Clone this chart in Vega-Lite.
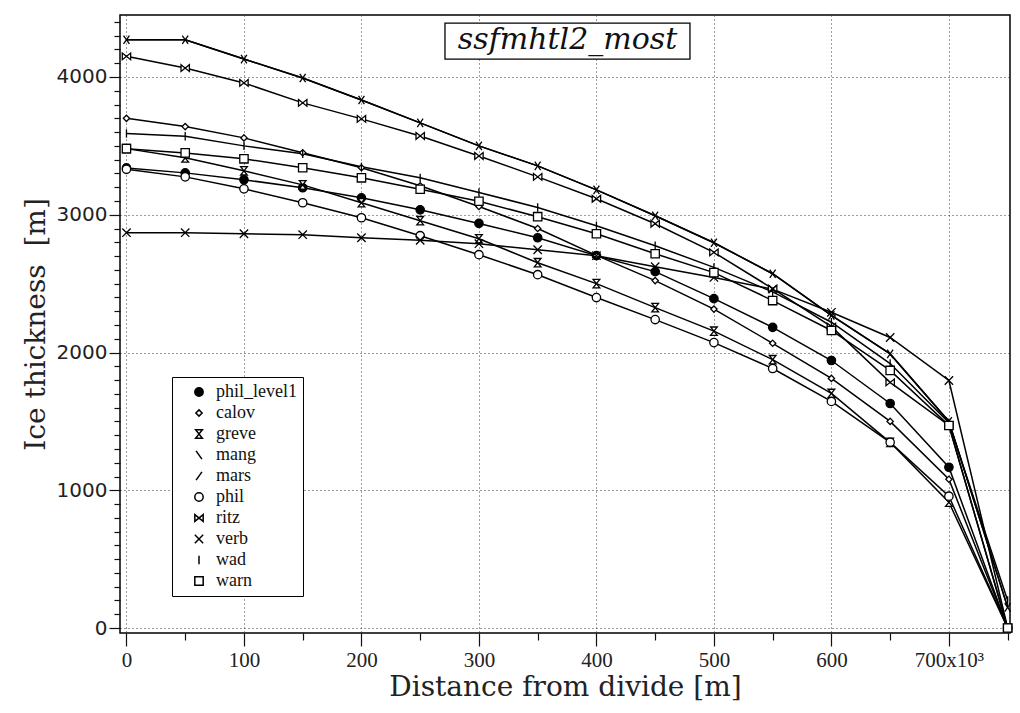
{
  "$schema": "https://vega.github.io/schema/vega-lite/v6.json",
  "width": 890,
  "height": 618,
  "autosize": {"type": "none"},
  "padding": {"left": 120, "top": 15, "right": 10, "bottom": 80},
  "background": "white",
  "config": {
    "view": {"stroke": "black", "strokeWidth": 1.5},
    "axis": {"labelColor": "#222", "titleColor": "#222", "tickColor": "#111", "tickWidth": 1.2}
  },
  "data": {
    "values": [
      {"s": "phil_level1", "x": 0, "y": 3340}, {"s": "phil_level1", "x": 50000, "y": 3304}, {"s": "phil_level1", "x": 100000, "y": 3254}, {"s": "phil_level1", "x": 150000, "y": 3196}, {"s": "phil_level1", "x": 200000, "y": 3123}, {"s": "phil_level1", "x": 250000, "y": 3036}, {"s": "phil_level1", "x": 300000, "y": 2937}, {"s": "phil_level1", "x": 350000, "y": 2833}, {"s": "phil_level1", "x": 400000, "y": 2703}, {"s": "phil_level1", "x": 450000, "y": 2587}, {"s": "phil_level1", "x": 500000, "y": 2391}, {"s": "phil_level1", "x": 550000, "y": 2183}, {"s": "phil_level1", "x": 600000, "y": 1942}, {"s": "phil_level1", "x": 650000, "y": 1630}, {"s": "phil_level1", "x": 700000, "y": 1167}, {"s": "phil_level1", "x": 750000, "y": 0},
      {"s": "calov", "x": 0, "y": 3700}, {"s": "calov", "x": 50000, "y": 3640}, {"s": "calov", "x": 100000, "y": 3558}, {"s": "calov", "x": 150000, "y": 3450}, {"s": "calov", "x": 200000, "y": 3341}, {"s": "calov", "x": 250000, "y": 3210}, {"s": "calov", "x": 300000, "y": 3060}, {"s": "calov", "x": 350000, "y": 2900}, {"s": "calov", "x": 400000, "y": 2705}, {"s": "calov", "x": 450000, "y": 2522}, {"s": "calov", "x": 500000, "y": 2315}, {"s": "calov", "x": 550000, "y": 2067}, {"s": "calov", "x": 600000, "y": 1812}, {"s": "calov", "x": 650000, "y": 1500}, {"s": "calov", "x": 700000, "y": 1080}, {"s": "calov", "x": 750000, "y": 0},
      {"s": "greve", "x": 0, "y": 3480}, {"s": "greve", "x": 50000, "y": 3413}, {"s": "greve", "x": 100000, "y": 3319}, {"s": "greve", "x": 150000, "y": 3217}, {"s": "greve", "x": 200000, "y": 3087}, {"s": "greve", "x": 250000, "y": 2957}, {"s": "greve", "x": 300000, "y": 2826}, {"s": "greve", "x": 350000, "y": 2652}, {"s": "greve", "x": 400000, "y": 2500}, {"s": "greve", "x": 450000, "y": 2326}, {"s": "greve", "x": 500000, "y": 2155}, {"s": "greve", "x": 550000, "y": 1948}, {"s": "greve", "x": 600000, "y": 1703}, {"s": "greve", "x": 650000, "y": 1348}, {"s": "greve", "x": 700000, "y": 913}, {"s": "greve", "x": 750000, "y": 0},
      {"s": "mang", "x": 0, "y": 4270}, {"s": "mang", "x": 50000, "y": 4270}, {"s": "mang", "x": 100000, "y": 4130}, {"s": "mang", "x": 150000, "y": 3993}, {"s": "mang", "x": 200000, "y": 3833}, {"s": "mang", "x": 250000, "y": 3667}, {"s": "mang", "x": 300000, "y": 3500}, {"s": "mang", "x": 350000, "y": 3355}, {"s": "mang", "x": 400000, "y": 3181}, {"s": "mang", "x": 450000, "y": 2993}, {"s": "mang", "x": 500000, "y": 2797}, {"s": "mang", "x": 550000, "y": 2572}, {"s": "mang", "x": 600000, "y": 2270}, {"s": "mang", "x": 650000, "y": 1990}, {"s": "mang", "x": 700000, "y": 1500}, {"s": "mang", "x": 750000, "y": 150},
      {"s": "mars", "x": 0, "y": 4270}, {"s": "mars", "x": 50000, "y": 4270}, {"s": "mars", "x": 100000, "y": 4130}, {"s": "mars", "x": 150000, "y": 3993}, {"s": "mars", "x": 200000, "y": 3833}, {"s": "mars", "x": 250000, "y": 3667}, {"s": "mars", "x": 300000, "y": 3500}, {"s": "mars", "x": 350000, "y": 3355}, {"s": "mars", "x": 400000, "y": 3181}, {"s": "mars", "x": 450000, "y": 2993}, {"s": "mars", "x": 500000, "y": 2797}, {"s": "mars", "x": 550000, "y": 2572}, {"s": "mars", "x": 600000, "y": 2270}, {"s": "mars", "x": 650000, "y": 1990}, {"s": "mars", "x": 700000, "y": 1500}, {"s": "mars", "x": 750000, "y": 150},
      {"s": "phil", "x": 0, "y": 3330}, {"s": "phil", "x": 50000, "y": 3275}, {"s": "phil", "x": 100000, "y": 3188}, {"s": "phil", "x": 150000, "y": 3087}, {"s": "phil", "x": 200000, "y": 2978}, {"s": "phil", "x": 250000, "y": 2848}, {"s": "phil", "x": 300000, "y": 2710}, {"s": "phil", "x": 350000, "y": 2565}, {"s": "phil", "x": 400000, "y": 2399}, {"s": "phil", "x": 450000, "y": 2239}, {"s": "phil", "x": 500000, "y": 2072}, {"s": "phil", "x": 550000, "y": 1884}, {"s": "phil", "x": 600000, "y": 1645}, {"s": "phil", "x": 650000, "y": 1348}, {"s": "phil", "x": 700000, "y": 957}, {"s": "phil", "x": 750000, "y": 0},
      {"s": "ritz", "x": 0, "y": 4150}, {"s": "ritz", "x": 50000, "y": 4065}, {"s": "ritz", "x": 100000, "y": 3957}, {"s": "ritz", "x": 150000, "y": 3812}, {"s": "ritz", "x": 200000, "y": 3696}, {"s": "ritz", "x": 250000, "y": 3572}, {"s": "ritz", "x": 300000, "y": 3427}, {"s": "ritz", "x": 350000, "y": 3275}, {"s": "ritz", "x": 400000, "y": 3116}, {"s": "ritz", "x": 450000, "y": 2935}, {"s": "ritz", "x": 500000, "y": 2727}, {"s": "ritz", "x": 550000, "y": 2464}, {"s": "ritz", "x": 600000, "y": 2188}, {"s": "ritz", "x": 650000, "y": 1783}, {"s": "ritz", "x": 700000, "y": 1471}, {"s": "ritz", "x": 750000, "y": 0},
      {"s": "verb", "x": 0, "y": 2870}, {"s": "verb", "x": 50000, "y": 2870}, {"s": "verb", "x": 100000, "y": 2862}, {"s": "verb", "x": 150000, "y": 2855}, {"s": "verb", "x": 200000, "y": 2833}, {"s": "verb", "x": 250000, "y": 2815}, {"s": "verb", "x": 300000, "y": 2790}, {"s": "verb", "x": 350000, "y": 2746}, {"s": "verb", "x": 400000, "y": 2703}, {"s": "verb", "x": 450000, "y": 2623}, {"s": "verb", "x": 500000, "y": 2545}, {"s": "verb", "x": 550000, "y": 2460}, {"s": "verb", "x": 600000, "y": 2292}, {"s": "verb", "x": 650000, "y": 2109}, {"s": "verb", "x": 700000, "y": 1797}, {"s": "verb", "x": 750000, "y": 0},
      {"s": "wad", "x": 0, "y": 3590}, {"s": "wad", "x": 50000, "y": 3570}, {"s": "wad", "x": 100000, "y": 3500}, {"s": "wad", "x": 150000, "y": 3442}, {"s": "wad", "x": 200000, "y": 3348}, {"s": "wad", "x": 250000, "y": 3268}, {"s": "wad", "x": 300000, "y": 3162}, {"s": "wad", "x": 350000, "y": 3053}, {"s": "wad", "x": 400000, "y": 2920}, {"s": "wad", "x": 450000, "y": 2775}, {"s": "wad", "x": 500000, "y": 2618}, {"s": "wad", "x": 550000, "y": 2440}, {"s": "wad", "x": 600000, "y": 2220}, {"s": "wad", "x": 650000, "y": 1920}, {"s": "wad", "x": 700000, "y": 1490}, {"s": "wad", "x": 750000, "y": 200},
      {"s": "warn", "x": 0, "y": 3480}, {"s": "warn", "x": 50000, "y": 3449}, {"s": "warn", "x": 100000, "y": 3406}, {"s": "warn", "x": 150000, "y": 3341}, {"s": "warn", "x": 200000, "y": 3268}, {"s": "warn", "x": 250000, "y": 3185}, {"s": "warn", "x": 300000, "y": 3098}, {"s": "warn", "x": 350000, "y": 2986}, {"s": "warn", "x": 400000, "y": 2862}, {"s": "warn", "x": 450000, "y": 2717}, {"s": "warn", "x": 500000, "y": 2580}, {"s": "warn", "x": 550000, "y": 2377}, {"s": "warn", "x": 600000, "y": 2160}, {"s": "warn", "x": 650000, "y": 1870}, {"s": "warn", "x": 700000, "y": 1470}, {"s": "warn", "x": 750000, "y": 0}
    ]
  },
  "layer": [
    {
      "mark": {"type": "line", "color": "black", "strokeWidth": 1.5},
      "encoding": {
        "x": {
          "field": "x", "type": "quantitative",
          "scale": {"domain": [-5500, 752000], "nice": false, "zero": false},
          "axis": {
            "orient": "bottom",
            "values": [0, 50000, 100000, 150000, 200000, 250000, 300000, 350000, 400000, 450000, 500000, 550000, 600000, 650000, 700000, 750000],
            "labelExpr": "(datum.value % 100000 == 0 && datum.value <= 700000) ? (datum.value == 700000 ? '700x10³' : format(datum.value / 1000, 'd')) : ''",
            "tickSize": {"condition": {"test": "datum.value % 100000 == 0", "value": 13}, "value": 7},
            "grid": true,
            "gridColor": "#222",
            "gridDash": [1, 3],
            "gridWidth": 1,
            "gridOpacity": {"condition": {"test": "datum.value % 100000 == 0 && datum.value <= 700000", "value": 0.9}, "value": 0},
            "domain": false,
            "labelFont": "Liberation Serif",
            "labelFontSize": 21,
            "labelPadding": 3,
            "labelFlush": false,
            "labelOverlap": false,
            "title": "Distance from divide [m]",
            "titleFont": "DejaVu Serif",
            "titleFontSize": 28,
            "titleFontWeight": "normal",
            "titlePadding": 3
          }
        },
        "y": {
          "field": "y", "type": "quantitative",
          "scale": {"domain": [-36, 4450], "nice": false, "zero": false},
          "axis": {
            "orient": "left",
            "values": [0, 100, 200, 300, 400, 500, 600, 700, 800, 900, 1000, 1100, 1200, 1300, 1400, 1500, 1600, 1700, 1800, 1900, 2000, 2100, 2200, 2300, 2400, 2500, 2600, 2700, 2800, 2900, 3000, 3100, 3200, 3300, 3400, 3500, 3600, 3700, 3800, 3900, 4000, 4100, 4200, 4300, 4400],
            "labelExpr": "datum.value % 1000 == 0 ? format(datum.value, 'd') : ''",
            "tickSize": {"condition": {"test": "datum.value % 1000 == 0", "value": 11}, "value": 6},
            "grid": true,
            "gridColor": "#222",
            "gridDash": [1, 3],
            "gridWidth": 1,
            "gridOpacity": {"condition": {"test": "datum.value % 1000 == 0", "value": 0.9}, "value": 0},
            "domain": false,
            "labelFont": "DejaVu Sans",
            "labelFontSize": 20,
            "labelPadding": 2,
            "labelOverlap": false,
            "title": "Ice thickness\u00a0\u00a0[m]",
            "titleFont": "DejaVu Serif",
            "titleFontSize": 28,
            "titleFontWeight": "normal",
            "titlePadding": 6
          }
        },
        "detail": {"field": "s"}
      }
    },
    {
      "mark": {"type": "point", "stroke": "black", "strokeWidth": 1.3, "size": 70, "opacity": 1},
      "encoding": {
        "x": {"field": "x", "type": "quantitative", "axis": null},
        "y": {"field": "y", "type": "quantitative", "axis": null},
        "shape": {
          "field": "s", "type": "nominal",
          "scale": {
            "domain": ["phil_level1", "calov", "greve", "mang", "mars", "phil", "ritz", "verb", "wad", "warn"],
            "range": ["circle", "M0,-0.75L0.75,0L0,0.75L-0.75,0Z", "M-0.8,-1L0.8,-1L-0.8,1L0.8,1Z", "M-0.7,-1L0.7,1", "M-0.7,1L0.7,-1", "circle", "M-1,-0.8L1,0.8L1,-0.8L-1,0.8Z", "M-1,-1L1,1M-1,1L1,-1", "M0,-1L0,1", "square"]
          },
          "legend": {
            "orient": "none",
            "legendX": 52,
            "legendY": 362,
            "title": null,
            "strokeColor": "black",
            "fillColor": "white",
            "padding": 6,
            "labelFont": "Liberation Serif",
            "labelFontSize": 18,
            "labelColor": "#111",
            "rowPadding": 3,
            "symbolOffset": 12,
            "symbolSize": 70,
            "labelOffset": 8,
            "encode": {"symbols": {"update": {"stroke": {"value": "black"}, "strokeWidth": {"value": 1.3}}}}
          }
        },
        "fill": {
          "field": "s", "type": "nominal",
          "scale": {
            "domain": ["phil_level1", "calov", "greve", "mang", "mars", "phil", "ritz", "verb", "wad", "warn"],
            "range": ["black", "white", "white", "white", "white", "white", "white", "white", "white", "white"]
          },
          "legend": {
            "orient": "none",
            "legendX": 52,
            "legendY": 362,
            "title": null,
            "encode": {"symbols": {"update": {"stroke": {"value": "black"}, "strokeWidth": {"value": 1.3}}}}
          }
        }
      }
    },
    {
      "data": {"values": [{"label": "ssfmhtl2_most"}]},
      "mark": {"type": "rect", "fill": "white", "stroke": "black", "strokeWidth": 1.3},
      "encoding": {
        "x": {"datum": 271100, "type": "quantitative", "axis": null},
        "x2": {"datum": 479600},
        "y": {"datum": 4391, "type": "quantitative", "axis": null},
        "y2": {"datum": 4130}
      }
    },
    {
      "data": {"values": [{"label": "ssfmhtl2_most"}]},
      "mark": {"type": "text", "font": "DejaVu Serif", "fontStyle": "italic", "fontSize": 30, "align": "center", "baseline": "middle", "color": "#111"},
      "encoding": {
        "x": {"datum": 375400, "type": "quantitative", "axis": null},
        "y": {"datum": 4266, "type": "quantitative", "axis": null},
        "text": {"field": "label"}
      }
    }
  ],
  "resolve": {"axis": {"x": "independent", "y": "independent"}}
}
